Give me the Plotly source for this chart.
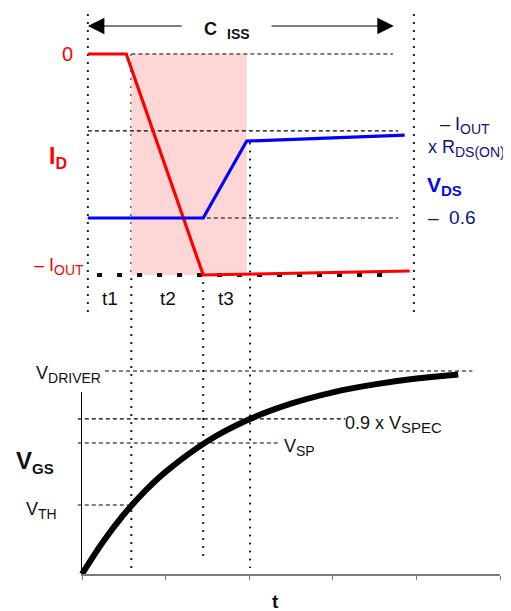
import plotly.graph_objects as go

# ---------------- data ----------------
# Top timing diagram (time in arbitrary units, levels normalised: I_D 0 -> -I_OUT = -1)
id_t = [0.07, 0.53, 1.45, 3.92]
id_v = [0.0, 0.0, -1.0, -0.982]
vds_t = [0.07, 1.45, 1.97, 3.86]
vds_v = [-0.742, -0.742, -0.394, -0.367]
level_zero = 0.0
level_ron = -0.348
level_06 = -0.742
level_iout = -1.0
boundaries_t = [0.07, 0.59, 1.45, 2.01, 3.97]
phase_labels = ["t1", "t2", "t3"]
pink_t = [0.59, 1.97]

# Bottom V_GS curve (V_DRIVER normalised to 1)
vgs_t = [0, 0.25, 0.5, 0.75, 1.0, 1.5, 2.0, 2.5, 3.0, 3.5, 4.0, 4.5]
vgs_v = [0, 0.158, 0.293, 0.407, 0.503, 0.654, 0.762, 0.839, 0.895, 0.934, 0.963, 0.983]
v_driver = 1.0
v_spec09 = 0.764
v_sp = 0.645
v_th = 0.340
axis_ticks = [0, 1, 2, 3, 4, 5]

# page body has an 8px margin: the figure is sized to fill the rest of the window
OFF = 8
W, H = 511 - OFF, 611 - OFF
FONT = "Liberation Sans, Arial, Helvetica, sans-serif"
X0 = 82 - OFF          # pixel of t = 0
XS = 83.6              # pixels per time unit
TOP0 = 54 - OFF        # pixel of I_D = 0
TS = 221               # pixels per top level unit
BOT0 = 574 - OFF       # pixel of V_GS = 0
BS = 203               # pixels per V_DRIVER
X_RANGE = [-X0 / XS, (W - X0) / XS]
Y_RANGE = [(TOP0 - H) / TS, TOP0 / TS]
Y2_RANGE = [(BOT0 - H) / BS, BOT0 / BS]


def top_paper(v):
    return (v - Y_RANGE[0]) / (Y_RANGE[1] - Y_RANGE[0])


def bot_paper(v):
    return (v - Y2_RANGE[0]) / (Y2_RANGE[1] - Y2_RANGE[0])


def P(px, py):
    return (px - OFF) / W, 1 - (py - OFF) / H


def sub(text, size):
    return "<sub><span style='font-size:%dpx'>%s</span></sub>" % (size, text)


fig = go.Figure()

# pink region
shapes = [dict(type="rect", xref="x", yref="y", x0=pink_t[0], x1=pink_t[1],
               y0=level_iout, y1=level_zero, fillcolor="#FFD6D6",
               line=dict(width=0), layer="below")]

DASH = dict(color="#000000", width=1.1, dash="4px,3px")
DOT = dict(color="#222222", width=2, dash="2px,6px")

# top dashed levels
for y, x0, x1 in [(level_zero, 0.59, 3.72), (level_ron, 0.07, 3.78), (level_06, 0.07, 3.78)]:
    shapes.append(dict(type="line", xref="x", yref="y", x0=x0, x1=x1, y0=y, y1=y,
                       line=DASH, layer="below"))
# thick dotted -I_OUT level
shapes.append(dict(type="line", xref="x", yref="y", x0=0.18, x1=3.71, y0=level_iout, y1=level_iout,
                   line=dict(color="#111111", width=4, dash="5px,15px"), layer="below"))

# bottom dashed levels
for y, x0, x1 in [(v_driver, 0.275, 4.67), (v_spec09, -0.05, 3.15), (v_sp, -0.05, 2.34), (v_th, -0.05, 0.59)]:
    shapes.append(dict(type="line", xref="x", yref="y2", x0=x0, x1=x1, y0=y, y1=y,
                       line=DASH, layer="below"))

# vertical dotted boundaries (span both panels)
v_tops = [top_paper(0.217), top_paper(level_zero), top_paper(level_06), top_paper(-0.40), top_paper(0.217)]
v_bots = [top_paper(-1.167), bot_paper(0.03), bot_paper(0.069), bot_paper(0.03), top_paper(-1.167)]
for t, a, b in zip(boundaries_t, v_tops, v_bots):
    shapes.append(dict(type="line", xref="x", yref="paper", x0=t, x1=t, y0=a, y1=b,
                       line=DOT, layer="below"))

# traces
fig.add_trace(go.Scatter(x=id_t, y=id_v, mode="lines", line=dict(color="#FF0000", width=3.2),
                         xaxis="x", yaxis="y", hoverinfo="skip", showlegend=False))
fig.add_trace(go.Scatter(x=vds_t, y=vds_v, mode="lines", line=dict(color="#0000FF", width=3.2),
                         xaxis="x", yaxis="y", hoverinfo="skip", showlegend=False))
fig.add_trace(go.Scatter(x=vgs_t, y=vgs_v, mode="lines", line=dict(color="#000000", width=6, shape="spline"),
                         xaxis="x", yaxis="y2", hoverinfo="skip", showlegend=False))
# dummy trace for visible axes
fig.add_trace(go.Scatter(x=[0], y=[0], mode="lines", xaxis="x2", yaxis="y3",
                         hoverinfo="skip", showlegend=False))

ann = []


def label(px, py, text, size, color, xanchor="center", bold=False):
    x, y = P(px, py)
    if bold:
        text = "<b>" + text + "</b>"
    ann.append(dict(x=x, y=y, xref="paper", yref="paper", text=text, showarrow=False,
                    xanchor=xanchor, yanchor="middle",
                    font=dict(family=FONT, size=size, color=color)))


RED = "#FF0000"
NAVY = "#101080"
BLUE = "#0A0AE6"
BLK = "#111111"

label(67, 54, "0", 20, RED)
label(69, 157, "I" + sub("D", 16), 23, RED, "right", True)
label(86, 267, "– I" + sub("OUT", 14), 18, RED, "right")
for name, px in zip(phase_labels, [110, 168, 226]):
    label(px, 298, name, 19, BLK)
label(227, 30, "C  " + sub("ISS", 14), 18, BLK, bold=True)
label(438, 125, "– I" + sub("OUT", 14), 18, NAVY, "left")
label(426, 148, "x R" + sub("DS(ON)", 14), 18, NAVY, "left")
label(425, 186, "V" + sub("DS", 15), 21, BLUE, "left", True)
label(426, 217, "–  0.6", 19, NAVY, "left")

label(103, 374, "V" + sub("DRIVER", 14), 18, BLK, "right")
label(14, 462, "V" + sub("GS", 15), 24, BLK, "left", True)
label(24, 510, "V" + sub("TH", 14), 18, BLK, "left")
label(343, 424, "0.9 x V" + sub("SPEC", 15), 18, BLK, "left")
label(282, 447, "V" + sub("SP", 14), 18, BLK, "left")
label(275, 601, "t", 19, BLK, bold=True)

# C_ISS arrows
arrow_y = (TOP0 - (26 - OFF)) / TS
for tip, tail in [(0.07, 1.21), (3.73, 2.25)]:
    ann.append(dict(x=tip, y=arrow_y, xref="x", yref="y", ax=tail, ay=arrow_y,
                    axref="x", ayref="y", text="", showarrow=True, arrowhead=2,
                    arrowsize=3, arrowwidth=1.1, arrowcolor="#000000", standoff=0))

hidden = dict(visible=False, showgrid=False, zeroline=False)
fig.update_layout(
    width=W, height=H, autosize=False,
    margin=dict(l=0, r=0, t=0, b=0),
    paper_bgcolor="white", plot_bgcolor="rgba(0,0,0,0)",
    showlegend=False,
    shapes=shapes, annotations=ann,
    xaxis=dict(range=X_RANGE, domain=[0, 1], anchor="y", **hidden),
    yaxis=dict(range=Y_RANGE, domain=[0, 1], anchor="x", **hidden),
    yaxis2=dict(range=Y2_RANGE, overlaying="y", anchor="x", **hidden),
    xaxis2=dict(range=[0, 5], domain=[X0 / W, (500 - OFF) / W], anchor="y3", showline=True,
                linecolor="#7a7a7a", linewidth=1.5, ticks="outside", ticklen=4,
                tickcolor="#7a7a7a", tickvals=axis_ticks, showticklabels=False,
                showgrid=False, zeroline=False),
    yaxis3=dict(range=[0, 0.897], domain=[(H - BOT0) / H, (H - (392 - OFF)) / H], anchor="x2",
                showline=True, linecolor="#000000", linewidth=1, ticks="", showticklabels=False,
                showgrid=False, zeroline=False),
)

fig.write_html("out.html")
